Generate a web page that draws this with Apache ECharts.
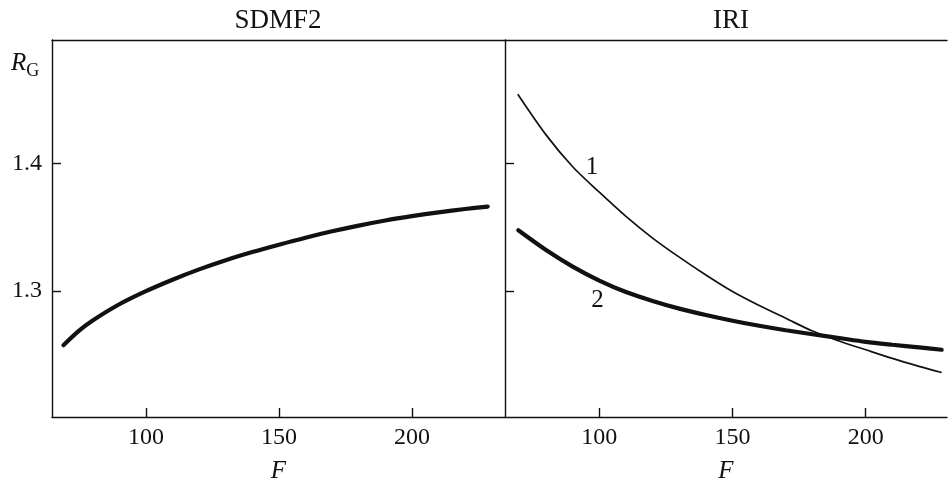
<!DOCTYPE html>
<html><head><meta charset="utf-8">
<script src="https://cdn.jsdelivr.net/npm/echarts@6/dist/echarts.min.js"></script>
<style>html,body{margin:0;padding:0;background:#fff}#c{width:948px;height:479px}</style>
</head><body><div id="c"></div>
<script>
// ---- data ----
const panelTitles = ['SDMF2', 'IRI'];
const xTickValues = [100, 150, 200];
const yTickValues = [1.3, 1.4];
const xName = 'F';

// SDMF2 panel
const sdmfF = [69, 75, 80, 90, 100, 110, 120, 130, 140, 150, 160, 170, 180, 190, 200, 210, 220, 228.5];
const sdmfR = [1.2574, 1.2690, 1.2768, 1.2895, 1.2998, 1.3088, 1.3169, 1.3241, 1.3305, 1.3363, 1.3418, 1.3468, 1.3513, 1.3553, 1.3587, 1.3617, 1.3643, 1.3662];

// IRI panel, curve 1
const iri1F = [69.4, 80, 90, 100, 110, 120, 130, 140, 150, 160, 170, 180, 190, 200, 210, 220, 228.5];
const iri1R = [1.4544, 1.4225, 1.3975, 1.3775, 1.3585, 1.3415, 1.3265, 1.3125, 1.2995, 1.2885, 1.2785, 1.2685, 1.2607, 1.2538, 1.2470, 1.2408, 1.2359];

// IRI panel, curve 2
const iri2F = [69.6, 80, 90, 100, 110, 120, 130, 140, 150, 160, 170, 180, 190, 200, 210, 220, 228.5];
const iri2R = [1.3476, 1.3321, 1.3191, 1.3081, 1.2991, 1.2921, 1.2861, 1.2811, 1.2766, 1.2726, 1.2691, 1.2660, 1.2630, 1.2600, 1.2577, 1.2556, 1.2538];

// curve labels (data coordinates)
const curveLabels = ['1', '2'];
const curveLabelF = [97.3, 99.3];
const curveLabelR = [1.397, 1.2923];

// ---- chart ----
const zip = (a, b) => a.map((v, i) => [v, b[i]]);
const FONT = "'Liberation Serif', 'Times New Roman', serif";
const INK = '#111';
const lineStyle = { color: INK, width: 1.4 };

function bottomAxis(grid, min, max) {
  return {
    type: 'value', gridIndex: grid, position: 'bottom', min: min, max: max,
    name: xName, nameLocation: 'middle', nameGap: 42,
    nameTextStyle: { fontFamily: FONT, fontStyle: 'italic', fontSize: 25, color: INK },
    axisLine: { show: true, lineStyle: lineStyle },
    axisTick: { show: true, inside: true, length: 9, lineStyle: lineStyle, customValues: xTickValues },
    axisLabel: { show: true, margin: 9, fontFamily: FONT, fontSize: 24, color: INK, customValues: xTickValues },
    splitLine: { show: false }
  };
}
function topAxis(grid, min, max) {
  return {
    type: 'value', gridIndex: grid, position: 'top', min: min, max: max,
    axisLine: { show: true, lineStyle: lineStyle },
    axisTick: { show: false }, axisLabel: { show: false }, splitLine: { show: false }
  };
}
function leftAxis(grid, labels) {
  return {
    type: 'value', gridIndex: grid, position: 'left', min: 1.201, max: 1.497,
    axisLine: { show: true, onZero: false, lineStyle: lineStyle },
    axisTick: { show: true, inside: true, length: 9, lineStyle: lineStyle, customValues: yTickValues },
    axisLabel: { show: labels, margin: 10, fontFamily: FONT, fontSize: 24, color: INK, customValues: yTickValues,
      formatter: v => v.toFixed(1) },
    splitLine: { show: false }
  };
}

const chart = echarts.init(document.getElementById('c'), null, { renderer: 'canvas' });
chart.setOption({
  animation: false,
  backgroundColor: '#fff',
  grid: [
    { left: 52, top: 40, width: 453, height: 377, containLabel: false, outerBoundsMode: 'none' },
    { left: 505, top: 40, width: 442, height: 377, containLabel: false, outerBoundsMode: 'none' }
  ],
  xAxis: [
    bottomAxis(0, 64.7, 235),
    bottomAxis(1, 64.6, 230.5),
    topAxis(0, 64.7, 235),
    topAxis(1, 64.6, 230.5)
  ],
  yAxis: [leftAxis(0, true), leftAxis(1, false)],
  graphic: [
    { type: 'text', x: 278, y: 21, style: { text: panelTitles[0], fontFamily: FONT, fontSize: 27, fill: INK, align: 'center', verticalAlign: 'middle' } },
    { type: 'text', x: 731, y: 21, style: { text: panelTitles[1], fontFamily: FONT, fontSize: 27, fill: INK, align: 'center', verticalAlign: 'middle' } },
    { type: 'text', x: 11, y: 51, style: {
        text: '{r|R}{g|G}', fill: INK,
        rich: {
          r: { fontFamily: FONT, fontStyle: 'italic', fontSize: 25, fill: INK, verticalAlign: 'bottom' },
          g: { fontFamily: FONT, fontSize: 18, fill: INK, verticalAlign: 'bottom', padding: [0, 0, -4, 0] }
        } } }
  ],
  series: [
    { type: 'line', xAxisIndex: 0, yAxisIndex: 0, data: zip(sdmfF, sdmfR), smooth: 0.3, showSymbol: false,
      lineStyle: { color: INK, width: 4.2, cap: 'round' } },
    { type: 'line', xAxisIndex: 1, yAxisIndex: 1, data: zip(iri1F, iri1R), smooth: 0.3, showSymbol: false,
      lineStyle: { color: INK, width: 1.7 },
      markPoint: { symbol: 'circle', symbolSize: 0, silent: true,
        label: { show: true, position: 'inside', fontFamily: FONT, fontSize: 25, color: INK, formatter: p => p.name },
        data: [{ name: curveLabels[0], coord: [curveLabelF[0], curveLabelR[0]] }] } },
    { type: 'line', xAxisIndex: 1, yAxisIndex: 1, data: zip(iri2F, iri2R), smooth: 0.3, showSymbol: false,
      lineStyle: { color: INK, width: 4.2, cap: 'round' },
      markPoint: { symbol: 'circle', symbolSize: 0, silent: true,
        label: { show: true, position: 'inside', fontFamily: FONT, fontSize: 25, color: INK, formatter: p => p.name },
        data: [{ name: curveLabels[1], coord: [curveLabelF[1], curveLabelR[1]] }] } }
  ]
});
</script>
</body></html>
